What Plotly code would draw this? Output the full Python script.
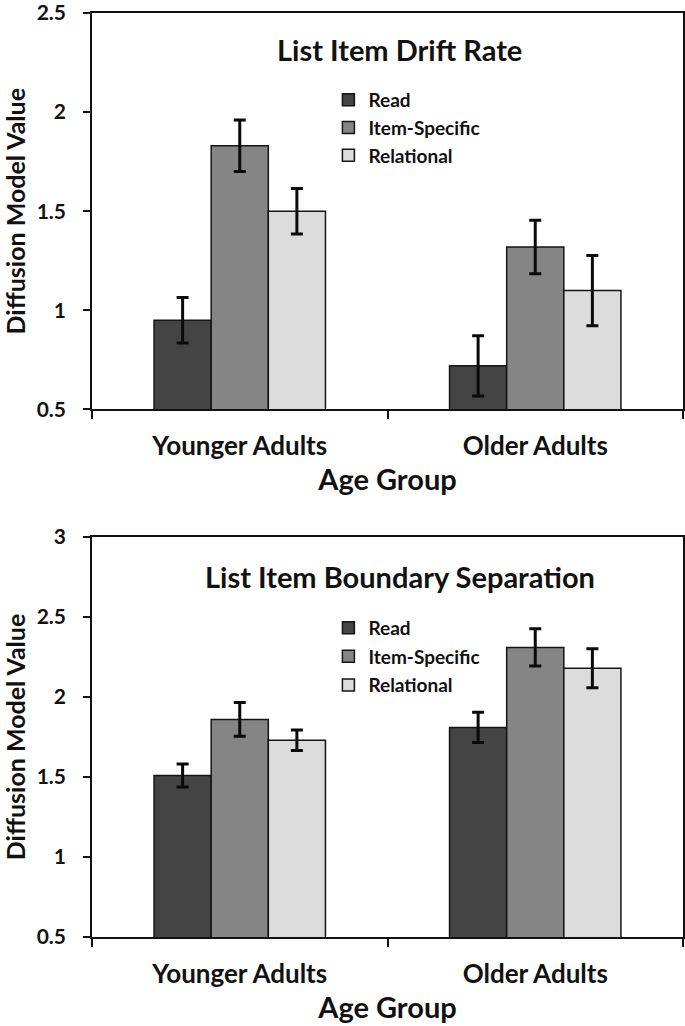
import plotly.graph_objects as go
from plotly.subplots import make_subplots

categories = ["Younger Adults", "Older Adults"]
series_names = ["Read", "Item-Specific", "Relational"]
series_colors = ["#444444", "#858585", "#dcdcdc"]

drift_read = [0.95, 0.72]
drift_item = [1.83, 1.32]
drift_rel = [1.50, 1.10]
drift_read_err = [0.115, 0.152]
drift_item_err = [0.13, 0.135]
drift_rel_err = [0.115, 0.177]

bound_read = [1.51, 1.81]
bound_item = [1.86, 2.31]
bound_rel = [1.73, 2.18]
bound_read_err = [0.072, 0.094]
bound_item_err = [0.106, 0.117]
bound_rel_err = [0.064, 0.122]

drift_ticks = [0.5, 1, 1.5, 2, 2.5]
bound_ticks = [0.5, 1, 1.5, 2, 2.5, 3]

FONT = "Lato"
fig = make_subplots(rows=2, cols=1, vertical_spacing=0.1375)

panels = [
    (1, [drift_read, drift_item, drift_rel], [drift_read_err, drift_item_err, drift_rel_err], "legend"),
    (2, [bound_read, bound_item, bound_rel], [bound_read_err, bound_item_err, bound_rel_err], "legend2"),
]
for row, vals, errs, leg in panels:
    for i, name in enumerate(series_names):
        fig.add_trace(go.Bar(
            x=categories, y=vals[i], name=name,
            marker=dict(color=series_colors[i], line=dict(color="#151515", width=1.5)),
            error_y=dict(type="data", array=errs[i], visible=True, color="#0a0a0a",
                         thickness=3, width=6),
            legend=leg, legendgroup=f"{leg}_{i}",
        ), row=row, col=1)

axis_common = dict(showline=True, linecolor="#111111", linewidth=1.5, mirror=True,
                   showgrid=False, zeroline=False, ticks="outside",
                   tickcolor="#111111", tickwidth=1.5, automargin=False)

for row, ticks, rng in [(1, drift_ticks, [0.5, 2.5]), (2, bound_ticks, [0.5, 3])]:
    fig.update_yaxes(range=rng, tickvals=ticks, ticktext=[f"{t:g}" for t in ticks],
                     ticklen=7, ticklabeloverflow="allow",
                     tickfont=dict(family=FONT, size=21, color="#111111", weight="bold"),
                     title=dict(text="Diffusion Model Value",
                                font=dict(family=FONT, size=25, color="#111111", weight="bold"),
                                standoff=6),
                     ticklabelstandoff=13, **axis_common, row=row, col=1)
    fig.update_xaxes(tickson="boundaries", ticklen=8,
                     tickfont=dict(family=FONT, size=26, color="#111111", weight="bold"),
                     title=dict(text="Age Group",
                                font=dict(family=FONT, size=29, color="#111111", weight="bold"),
                                standoff=9),
                     ticklabelstandoff=13,
                     **axis_common, row=row, col=1)

fig.update_layout(
    width=685, height=1026,
    margin=dict(l=92, r=2, t=13, b=89),
    paper_bgcolor="white", plot_bgcolor="white",
    barmode="group", bargap=0.42, bargroupgap=0,
    font=dict(family=FONT, color="#111111"),
    legend=dict(x=0.40, y=0.9264, xanchor="left", yanchor="top",
                font=dict(family=FONT, size=19, color="#111111", weight="bold"),
                tracegroupgap=0, bgcolor="rgba(0,0,0,0)"),
    legend2=dict(x=0.40, y=0.3552, xanchor="left", yanchor="top",
                 font=dict(family=FONT, size=19, color="#111111", weight="bold"),
                 tracegroupgap=1, bgcolor="rgba(0,0,0,0)"),
    annotations=[
        dict(text="List Item Drift Rate", xref="x domain", yref="y domain",
             x=0.521, y=0.909, showarrow=False, xanchor="center", yanchor="middle",
             font=dict(family=FONT, size=29, color="#111111", weight="bold")),
        dict(text="List Item Boundary Separation", xref="x2 domain", yref="y2 domain",
             x=0.521, y=0.9025, showarrow=False, xanchor="center", yanchor="middle",
             font=dict(family=FONT, size=29, color="#111111", weight="bold")),
    ],
)
fig.update_yaxes(domain=[0.5709, 1.0], row=1, col=1)
fig.update_yaxes(domain=[0.0, 0.4329], row=2, col=1)

# Remove the browser's default 8px body margin so the figure fills the window exactly.
fig.write_html("out.html", config={"displayModeBar": False},
               post_script="document.body.style.margin='0';")
